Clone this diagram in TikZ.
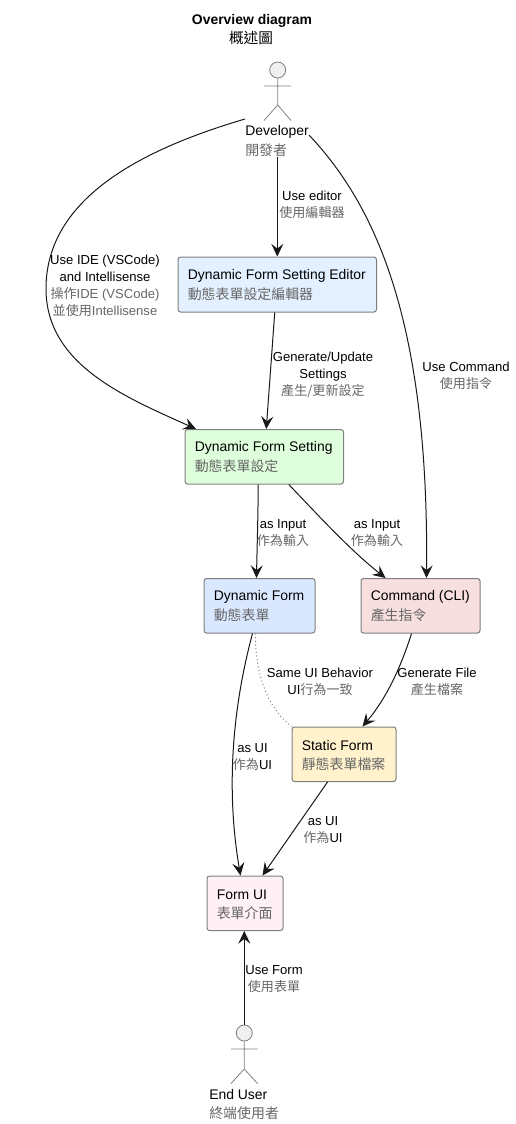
\documentclass[tikz,border=0pt]{standalone}
\usepackage{fontspec}
\setmainfont{Liberation Sans}
\newfontfamily\cjk{Noto Sans CJK TC}
\usetikzlibrary{arrows.meta,calc}
\definecolor{subt}{HTML}{666666}
\definecolor{edgeg}{HTML}{181818}
\definecolor{bordg}{HTML}{7F7F7F}
\newcommand{\zh}[1]{{\color{subt}\cjk #1}}
\newcommand{\zm}[1]{{\color{subt}#1}}
\tikzset{
  x=0.75pt,y=-0.75pt,
  box/.style={draw=bordg,line width=0.75pt,rounded corners=1.9pt,anchor=north west,inner sep=0pt},
  boxtext/.style={inner sep=0pt,anchor=west,font=\fontsize{10.45}{13}\selectfont},
  lab/.style={inner sep=0pt,align=center,font=\fontsize{9.8}{12.7}\selectfont},
  actortext/.style={inner sep=0pt,align=left,anchor=west,font=\fontsize{10.45}{14}\selectfont},
  flow/.style={edgeg,line width=0.75pt,-{Stealth[length=9.5pt,width=9pt,inset=3.6pt]}},
  dot/.style={bordg,line width=0.75pt,dotted},
  actorline/.style={draw=bordg,line width=0.6pt},
  actorhead/.style={draw=bordg,fill=black!6,line width=0.6pt},
}
\newcommand{\rbox}[8]{% name, x0,y0,w,h, fill, text1, text2
  \node[box,fill=#6,minimum width=#4*0.75pt,minimum height=#5*0.75pt] (#1) at (#2,#3) {};
  \node[boxtext] (#1t) at ($(#1.west)+(10,-8.5)$) {#7};
  \node[boxtext] (#1z) at ($(#1.west)+(10,9.5)$) {\zh{#8}};
}
\definecolor{fa}{HTML}{E3F0FF}
\definecolor{fb}{HTML}{DFFFDC}
\definecolor{fc}{HTML}{DAE8FF}
\definecolor{fd}{HTML}{F7DFDF}
\definecolor{fe}{HTML}{FFF2CC}
\definecolor{ff}{HTML}{FFF0F5}
\begin{document}
\begin{tikzpicture}
\useasboundingbox (0,0) rectangle (516,1124);
\node[inner sep=0pt,font=\bfseries\fontsize{10.45}{13}\selectfont] (title) at (252,21) {Overview diagram};
\node[inner sep=0pt,font=\fontsize{11}{13}\selectfont,text=black] (titlez) at (251,38) {{\cjk 概述圖}};

\rbox{editor}{177.5}{256.5}{198.5}{55}{fa}{Dynamic Form Setting Editor}{動態表單設定編輯器}
\rbox{setting}{184.5}{429}{158.5}{54.5}{fb}{Dynamic Form Setting}{動態表單設定}
\rbox{dform}{203.5}{578}{111}{54.5}{fc}{Dynamic Form}{動態表單}
\rbox{cmd}{360.5}{578}{119}{54.5}{fd}{Command (CLI)}{產生指令}
\rbox{sform}{291.5}{726.5}{104}{54.5}{fe}{Static Form}{靜態表單檔案}
\rbox{ui}{206.5}{875.5}{76}{54.5}{ff}{Form UI}{表單介面}

% actors
\draw[actorhead] (277.7,70) circle[radius=8*0.75pt];
\draw[actorline] (277.7,78) -- (277.7,105) (264,86) -- (291,86) (264,120.5) -- (277.7,105) -- (291,120.5);
\node[actortext] (dev) at (245,132) {Developer};
\node[actortext] (devz) at (245,150.5) {\zh{開發者}};
\draw[actorhead] (244.3,1033) circle[radius=8*0.75pt];
\draw[actorline] (244.3,1041) -- (244.3,1069) (231,1049) -- (257.5,1049) (231,1083.5) -- (244.3,1069) -- (257.5,1083.5);
\node[actortext] (usr) at (209,1094.5) {End User};
\node[actortext] (usrz) at (209,1113) {\zh{終端使用者}};
\coordinate (usrtop) at (244.3,1025);

% connectors
\coordinate (devleft) at (245,119);
\coordinate (devdown) at (277.3,157);
\coordinate (devright) at (309,135);
\draw[flow] (devdown) -- (editor.north -| devdown);
\draw[flow] (devleft) .. controls (150,147) and (45,195) .. (46,290) .. controls (47,365) and (125,397) .. ([xshift=11.5*0.75pt]setting.north west);
\draw[flow] (devright) .. controls (375,205) and (429,320) .. ([xshift=6*0.75pt]cmd.north);
\draw[flow] ([xshift=-2.5*0.75pt]editor.south) -- ([xshift=2*0.75pt]setting.north);
\draw[flow] ([xshift=-6*0.75pt]setting.south) .. controls (258,520) and (257,550) .. ([xshift=-3*0.75pt]dform.north);
\draw[flow] ([xshift=24.5*0.75pt]setting.south) .. controls (318,515) and (350,550) .. ([xshift=-35*0.75pt]cmd.north);
\draw[flow] ([xshift=-7*0.75pt]dform.south) .. controls (232,710) and (226,790) .. ([xshift=-4.5*0.75pt]ui.north);
\draw[dot] ([xshift=-4*0.75pt]dform.south) .. controls (255,675) and (268,708) .. (sform.north west);
\draw[flow] ([xshift=-9*0.75pt]cmd.south) .. controls (400,670) and (385,700) .. ([xshift=18.5*0.75pt]sform.north);
\draw[flow] ([xshift=-16.5*0.75pt]sform.south) -- ([xshift=17.5*0.75pt]ui.north);
\draw[flow] (usrtop) -- (ui.south -| usrtop);

% labels
\node[lab] (l1) at (312,205) {Use editor\\\zh{使用編輯器}};
\node[lab] (l2) at (105,285.5) {Use IDE (VSCode)\\and Intellisense\\\zm{\cjk 操作}\zm{IDE (VSCode)}\\\zm{\cjk 並使用}\zm{Intellisense}};
\node[lab] (l3) at (323,374.5) {Generate/Update\\Settings\\\zh{產生/更新設定}};
\node[lab] (l4) at (466,375.5) {Use Command\\\zh{使用指令}};
\node[lab] (l5) at (283,533) {as Input\\\zh{作為輸入}};
\node[lab] (l6) at (377,533) {as Input\\\zh{作為輸入}};
\node[lab] (l7) at (320,681.5) {Same UI Behavior\\UI\zh{行為一致}};
\node[lab] (l8) at (437,681.5) {Generate File\\\zh{產生檔案}};
\node[lab] (l9) at (252.5,757) {as UI\\\zh{作為}UI};
\node[lab] (l10) at (323,830) {as UI\\\zh{作為}UI};
\node[lab] (l11) at (274,979.5) {Use Form\\\zh{使用表單}};
\end{tikzpicture}
\end{document}
